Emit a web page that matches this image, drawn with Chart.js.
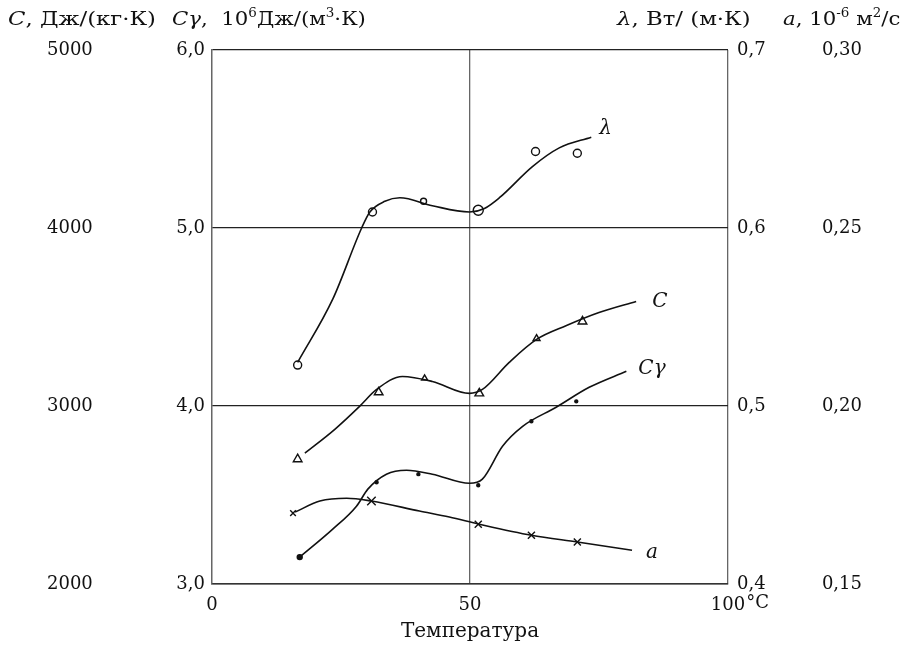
<!DOCTYPE html>
<html>
<head>
<meta charset="utf-8">
<script src="https://cdn.jsdelivr.net/npm/chart.js"></script>
<style>
  html, body { margin: 0; padding: 0; background: #fff; }
</style>
</head>
<body>
<canvas id="chart" width="905" height="646"></canvas>
<script>
// Temperature, °C (x) and values
// lambda, W/(m·K) - fitted curve and measured points
const lambdaCurveX = [16.6, 23.4, 29.0, 30.6, 33.5, 36.4, 42.7, 49.9, 52.8, 55.7, 62.1, 67.3, 73.5];
const lambdaCurveY = [0.5245, 0.560, 0.600, 0.609, 0.615, 0.617, 0.6125, 0.609, 0.611, 0.617, 0.6345, 0.645, 0.651];
const lambdaPointX = [16.6, 31.1, 41.0, 51.6, 62.7, 70.8];
const lambdaPointY = [0.523, 0.609, 0.615, 0.610, 0.643, 0.642];

// C, J/(kg·K)
const cCurveX = [18.0, 23.8, 28.6, 31.9, 36.9, 42.7, 49.9, 52.4, 57.6, 62.9, 68.7, 75.0, 82.2];
const cCurveY = [2735, 2869, 2998, 3093, 3166, 3138, 3071, 3093, 3245, 3374, 3452, 3525, 3587];
const cPointX = [16.6, 32.3, 41.2, 51.8, 62.9, 71.8];
const cPointY = [2701, 3077, 3155, 3071, 3379, 3475];

// C·gamma, 10^6 J/(m³·K)
const cgCurveX = [17.0, 23.4, 28.0, 30.2, 33.8, 37.7, 42.7, 49.9, 52.4, 56.3, 60.2, 66.7, 73.1, 80.3];
const cgCurveY = [3.151, 3.308, 3.437, 3.533, 3.617, 3.639, 3.617, 3.566, 3.589, 3.774, 3.886, 3.993, 4.105, 4.195];
const cgPointX = [17.0, 31.9, 40.0, 51.6, 61.9, 70.6];
const cgPointY = [3.151, 3.572, 3.617, 3.555, 3.914, 4.026];

// a, 10^-6 m²/s
const aCurveX = [16.1, 20.9, 26.1, 30.9, 40.2, 46.0, 51.8, 61.9, 70.8, 81.4];
const aCurveY = [0.1702, 0.1733, 0.1741, 0.1733, 0.1705, 0.1688, 0.1668, 0.1637, 0.1618, 0.1595];
const aPointX = [15.7, 30.9, 51.6, 61.9, 70.8];
const aPointY = [0.1699, 0.1733, 0.1668, 0.1637, 0.1618];

// axis ranges
const xRange = [0, 100];
const cRange = [2000, 5000];
const cgRange = [3.0, 6.0];
const lambdaRange = [0.4, 0.7];
const aRange = [0.15, 0.30];

const SERIF = "'DejaVu Serif', 'Liberation Serif', serif";
const INK = '#111';

function pairs(xs, ys) {
  return xs.map((x, i) => ({ x: x, y: ys[i] }));
}

function curve(xs, ys, axis) {
  return {
    type: 'line',
    data: pairs(xs, ys),
    yAxisID: axis,
    borderColor: INK,
    borderWidth: 1.6,
    pointRadius: 0,
    cubicInterpolationMode: 'monotone',
    fill: false
  };
}

function marks(xs, ys, axis, style, radius, filled) {
  return {
    type: 'scatter',
    data: pairs(xs, ys),
    yAxisID: axis,
    showLine: false,
    pointStyle: style,
    pointRadius: radius,
    pointBorderColor: INK,
    pointBorderWidth: 1.4,
    pointBackgroundColor: filled ? INK : '#fff'
  };
}

// Draw text made of runs: 'n' normal, 'i' italic, 's' superscript; stretched a bit horizontally
function drawRuns(ctx, x, y, runs, size, stretch) {
  ctx.save();
  ctx.translate(x, y);
  ctx.scale(stretch, 1);
  let cx = 0;
  for (const [text, style] of runs) {
    const sup = style === 's';
    ctx.font = (style === 'i' ? 'italic ' : '') + (sup ? Math.round(size * 0.62) : size) + 'px ' + SERIF;
    ctx.fillText(text, cx, sup ? -size * 0.42 : 0);
    cx += ctx.measureText(text).width;
  }
  ctx.restore();
}

const labelsPlugin = {
  id: 'labels',
  afterDraw(chart) {
    const ctx = chart.ctx;
    ctx.save();
    ctx.fillStyle = INK;
    ctx.textBaseline = 'alphabetic';
    ctx.textAlign = 'left';

    // axis captions on top
    drawRuns(ctx, 8, 25, [['C', 'i'], [', Дж/(кг·К)', 'n']], 19, 1.2);
    drawRuns(ctx, 172, 25, [['Cγ', 'i'], [',  10', 'n'], ['6', 's'], ['Дж/(м', 'n'], ['3', 's'], ['·К)', 'n']], 19, 1.12);
    drawRuns(ctx, 617, 25, [['λ', 'i'], [', Вт/ (м·К)', 'n']], 19, 1.2);
    drawRuns(ctx, 783, 25, [['a', 'i'], [', 10', 'n'], ['-6', 's'], [' м', 'n'], ['2', 's'], ['/с', 'n']], 19, 1.12);

    // °C after the last x tick
    const xs = chart.scales.x;
    ctx.font = '18px ' + SERIF;
    const w100 = ctx.measureText('100').width;
    ctx.textBaseline = 'middle';
    ctx.fillText('°C', xs.getPixelForValue(100) + w100 / 2 + 1, chart.chartArea.bottom + 19);

    // curve names at the curve ends
    const names = [
      ['λ', 'yL', lambdaCurveX, lambdaCurveY, 8, -8],
      ['C', 'yC', cCurveX, cCurveY, 16, 0],
      ['Cγ', 'yCg', cgCurveX, cgCurveY, 12, -2],
      ['a', 'yA', aCurveX, aCurveY, 14, 3]
    ];
    ctx.font = 'italic 20px ' + SERIF;
    ctx.textBaseline = 'middle';
    for (const [name, axis, cx, cy, dx, dy] of names) {
      const n = cx.length - 1;
      const px = xs.getPixelForValue(cx[n]);
      const py = chart.scales[axis].getPixelForValue(cy[n]);
      ctx.fillText(name, px + dx, py + dy);
    }
    ctx.restore();
  }
};

const tickFont = { family: SERIF, size: 18 };
const yTickFont = { family: SERIF, size: 18, lineHeight: 0.1 };

new Chart(document.getElementById('chart'), {
  type: 'scatter',
  data: {
    datasets: [
      curve(lambdaCurveX, lambdaCurveY, 'yL'),
      marks(lambdaPointX, lambdaPointY, 'yL', 'circle', [4, 4, 3, 5, 4, 4], false),
      curve(cCurveX, cCurveY, 'yC'),
      marks(cPointX, cPointY, 'yC', 'triangle', [5, 5, 3.5, 5, 4, 5], false),
      curve(cgCurveX, cgCurveY, 'yCg'),
      marks(cgPointX, cgPointY, 'yCg', 'circle', [2.5, 1.5, 1.5, 1.5, 1.5, 1.5], true),
      curve(aCurveX, aCurveY, 'yA'),
      marks(aPointX, aPointY, 'yA', 'crossRot', [4, 6, 5, 5, 5], false)
    ]
  },
  options: {
    responsive: false,
    animation: false,
    layout: { padding: { top: 50, left: 47, right: 43, bottom: 0 } },
    plugins: {
      legend: { display: false },
      tooltip: { enabled: false }
    },
    scales: {
      x: {
        type: 'linear',
        min: xRange[0],
        max: xRange[1],
        afterFit: s => { s.height = 62; },
        ticks: { stepSize: 50, color: INK, font: tickFont, padding: 11, maxRotation: 0 },
        grid: { color: '#666', lineWidth: 1.3, drawTicks: false },
        border: { display: true, color: '#333', width: 1.5 },
        title: { display: true, text: 'Температура', color: INK, font: { family: SERIF, size: 20 }, padding: { top: 0, bottom: 2 } }
      },
      yC: {
        position: 'left',
        weight: 2,
        min: cRange[0],
        max: cRange[1],
        afterFit: s => { s.width = 115; },
        ticks: { stepSize: 1000, color: INK, font: yTickFont, padding: 0, crossAlign: 'far', callback: v => String(v) },
        grid: { display: false, drawTicks: false },
        border: { display: false }
      },
      yCg: {
        position: 'left',
        weight: 1,
        min: cgRange[0],
        max: cgRange[1],
        afterFit: s => { s.width = 50; },
        ticks: { stepSize: 1, color: INK, font: yTickFont, padding: 7, callback: v => v.toFixed(1).replace('.', ',') },
        grid: { color: '#222', lineWidth: 1.2, drawTicks: false },
        border: { display: true, color: '#666', width: 1.3 }
      },
      yL: {
        position: 'right',
        weight: 1,
        min: lambdaRange[0],
        max: lambdaRange[1],
        afterFit: s => { s.width = 60; },
        ticks: { stepSize: 0.1, color: INK, font: yTickFont, padding: 9, callback: v => v.toFixed(1).replace('.', ',') },
        grid: { display: false, drawTicks: false },
        border: { display: false }
      },
      yA: {
        position: 'right',
        weight: 2,
        min: aRange[0],
        max: aRange[1],
        afterFit: s => { s.width = 74; },
        ticks: { stepSize: 0.05, color: INK, font: yTickFont, padding: 0, crossAlign: 'far', callback: v => v.toFixed(2).replace('.', ',') },
        grid: { display: false, drawTicks: false },
        border: { display: false }
      }
    }
  },
  plugins: [labelsPlugin]
});
</script>
</body>
</html>
